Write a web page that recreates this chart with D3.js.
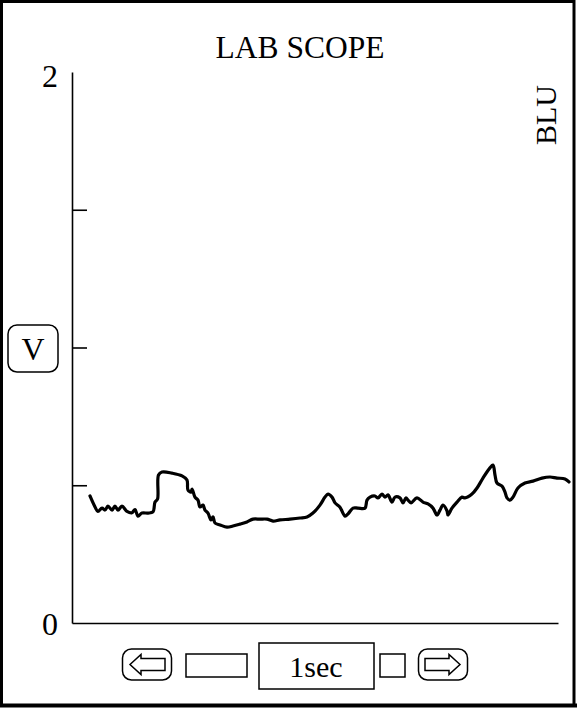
<!DOCTYPE html>
<html>
<head>
<meta charset="utf-8">
<script src="https://cdn.jsdelivr.net/npm/d3@7"></script>
<style>
  html, body { margin: 0; padding: 0; background: #fff; }
  text { font-family: "Liberation Serif", "DejaVu Serif", serif; fill: #000; }
</style>
</head>
<body>
<svg id="scope" width="577" height="708"></svg>
<script>
// trace samples: time (s) and volts
var times = [0.185, 0.237, 0.267, 0.309, 0.340, 0.370, 0.412, 0.442, 0.473, 0.514,
  0.566, 0.617, 0.648, 0.679, 0.720, 0.782, 0.833, 0.854, 0.880, 0.890,
  0.926, 1.029, 1.132, 1.183, 1.193, 1.224, 1.235, 1.265, 1.296, 1.317,
  1.348, 1.368, 1.399, 1.430, 1.451, 1.471, 1.523, 1.595, 1.656, 1.728,
  1.800, 1.862, 1.934, 2.006, 2.068, 2.140, 2.243, 2.346, 2.418, 2.479,
  2.551, 2.603, 2.634, 2.675, 2.706, 2.757, 2.809, 2.840, 2.891, 2.942,
  3.014, 3.035, 3.066, 3.117, 3.148, 3.189, 3.220, 3.251, 3.292, 3.323,
  3.374, 3.405, 3.436, 3.457, 3.488, 3.549, 3.611, 3.663, 3.714, 3.755,
  3.786, 3.817, 3.858, 3.868, 3.909, 3.961, 4.012, 4.043, 4.115, 4.167,
  4.228, 4.300, 4.331, 4.352, 4.372, 4.424, 4.455, 4.475, 4.506, 4.537,
  4.588, 4.660, 4.743, 4.835, 4.918, 4.990, 5.072, 5.113];
var volts = [0.461, 0.421, 0.405, 0.417, 0.410, 0.424, 0.410, 0.424, 0.410, 0.424,
  0.405, 0.400, 0.412, 0.388, 0.399, 0.399, 0.403, 0.439, 0.450, 0.537,
  0.548, 0.544, 0.534, 0.519, 0.483, 0.475, 0.486, 0.457, 0.446, 0.421,
  0.428, 0.410, 0.399, 0.374, 0.385, 0.363, 0.356, 0.348, 0.352, 0.359,
  0.367, 0.377, 0.377, 0.377, 0.370, 0.374, 0.377, 0.381, 0.385, 0.399,
  0.428, 0.457, 0.468, 0.457, 0.436, 0.420, 0.388, 0.396, 0.417, 0.417,
  0.417, 0.446, 0.457, 0.461, 0.454, 0.468, 0.457, 0.465, 0.439, 0.457,
  0.454, 0.436, 0.454, 0.446, 0.436, 0.454, 0.439, 0.432, 0.417, 0.392,
  0.410, 0.428, 0.407, 0.392, 0.417, 0.439, 0.457, 0.454, 0.468, 0.490,
  0.526, 0.563, 0.573, 0.537, 0.508, 0.497, 0.475, 0.454, 0.446, 0.457,
  0.490, 0.508, 0.515, 0.526, 0.530, 0.526, 0.523, 0.512];

var yTicks = [0.5, 1, 1.5];
var yLabels = [0, 2];
var title = "LAB SCOPE";
var channel = "BLU";
var unit = "V";
var timebase = "1sec";

var svg = d3.select("#scope");

var x = d3.scaleLinear().domain([0, 5]).range([72, 558]);
var y = d3.scaleLinear().domain([0, 2]).range([623, 72]);

// outer frame
svg.append("rect")
    .attr("x", 1.5).attr("y", 1.5)
    .attr("width", 572.5).attr("height", 704)
    .attr("fill", "none").attr("stroke", "#000").attr("stroke-width", 3);
svg.append("line")
    .attr("x1", 0).attr("x2", 577).attr("y1", 705.5).attr("y2", 705.5)
    .attr("stroke", "#000").attr("stroke-width", 4);

// axes
var yAxis = svg.append("g")
    .attr("transform", "translate(" + x(0) + ",0)")
    .call(d3.axisRight(y).tickValues(yTicks).tickSize(15).tickSizeOuter(0).tickFormat(""));
var xAxis = svg.append("g")
    .attr("transform", "translate(0," + y(0) + ")")
    .call(d3.axisBottom(x).tickValues([]).tickSizeOuter(0));
svg.selectAll(".domain, .tick line")
    .attr("stroke", "#000").attr("stroke-width", 1.6);

svg.selectAll(".ylab")
    .data(yLabels)
  .enter().append("text")
    .attr("class", "ylab")
    .attr("x", 50)
    .attr("y", function(d) { return d === 0 ? y(d) + 12 : y(d) + 15; })
    .attr("text-anchor", "middle")
    .style("font-size", "32px")
    .text(function(d) { return d; });

svg.append("text")
    .attr("x", 300).attr("y", 58)
    .attr("text-anchor", "middle")
    .style("font-size", "31.5px")
    .text(title);

svg.append("text")
    .attr("transform", "translate(556,115) rotate(-90)")
    .attr("text-anchor", "middle")
    .style("font-size", "30px")
    .text(channel);

// unit box
svg.append("rect")
    .attr("x", 8).attr("y", 325).attr("width", 50).attr("height", 47)
    .attr("rx", 9)
    .attr("fill", "none").attr("stroke", "#000").attr("stroke-width", 1.5);
svg.append("text")
    .attr("x", 33).attr("y", 360)
    .attr("text-anchor", "middle")
    .style("font-size", "32px")
    .text(unit);

// trace
var pts = times.map(function(t, i) { return [t, volts[i]]; });
var line = d3.line()
    .x(function(d) { return x(d[0]); })
    .y(function(d) { return y(d[1]); })
    .curve(d3.curveCatmullRom.alpha(0.5));
svg.append("path")
    .datum(pts)
    .attr("d", line)
    .attr("fill", "none")
    .attr("stroke", "#000")
    .attr("stroke-width", 3.2)
    .attr("stroke-linejoin", "round")
    .attr("stroke-linecap", "round");

// bottom controls
var ctl = svg.append("g").attr("fill", "none").attr("stroke", "#000").attr("stroke-width", 1.5);

function arrowButton(cx, dir) {
  ctl.append("rect")
      .attr("x", cx - 24.5).attr("y", 649).attr("width", 49).attr("height", 31)
      .attr("rx", 9);
  var p = [[-17, 0], [-6, -10], [-6, -6], [18, -6], [18, 6], [-6, 6], [-6, 10]];
  ctl.append("path")
      .attr("d", d3.line()(p.map(function(q) { return [cx + dir * q[0], 664.5 + q[1]]; })) + "Z");
}
arrowButton(147, 1);
arrowButton(443, -1);

ctl.append("rect").attr("x", 186).attr("y", 654).attr("width", 61).attr("height", 23);
ctl.append("rect").attr("x", 259).attr("y", 643).attr("width", 115).attr("height", 46);
ctl.append("rect").attr("x", 380).attr("y", 654).attr("width", 25).attr("height", 23);

svg.append("text")
    .attr("x", 316).attr("y", 677)
    .attr("text-anchor", "middle")
    .style("font-size", "30px")
    .text(timebase);
</script>
</body>
</html>
